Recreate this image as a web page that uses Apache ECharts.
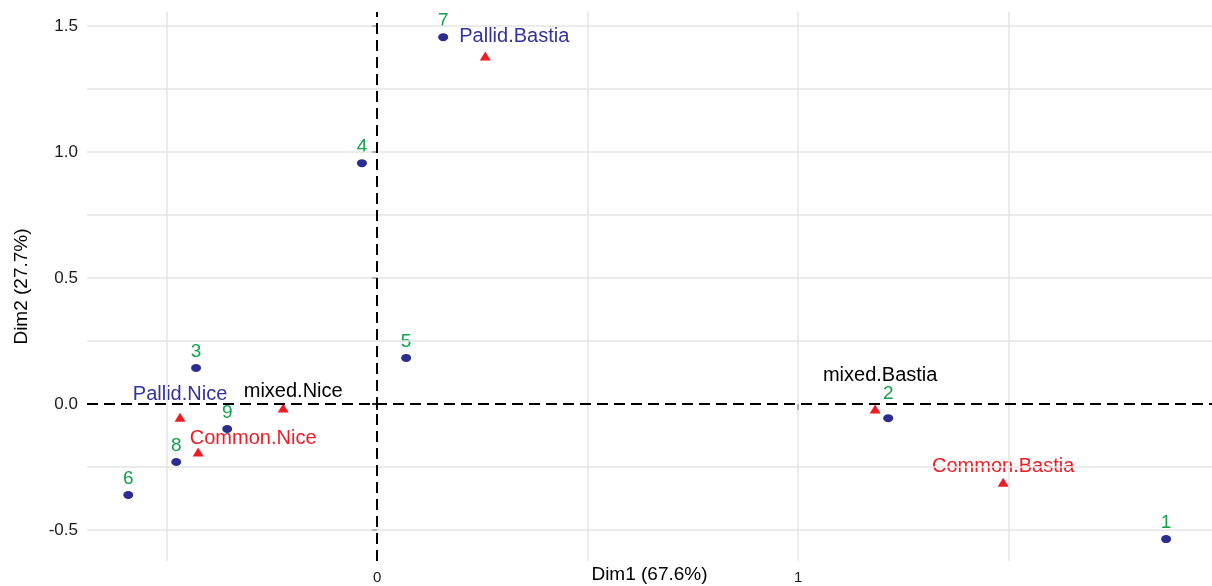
<!DOCTYPE html>
<html>
<head>
<meta charset="utf-8">
<script src="https://cdn.jsdelivr.net/npm/echarts@6/dist/echarts.min.js"></script>
<style>
  html, body { margin: 0; padding: 0; background: #ffffff; }
  #chart { width: 1212px; height: 586px; }
</style>
</head>
<body>
<div id="chart"></div>
<script>
// ---- data ----
const rowNames = ['1', '2', '3', '4', '5', '6', '7', '8', '9'];
const rowDim1 = [1.874, 1.214, -0.430, -0.036, 0.069, -0.591, 0.157, -0.477, -0.356];
const rowDim2 = [-0.536, -0.056, 0.143, 0.956, 0.183, -0.361, 1.456, -0.230, -0.099];

const colNames = ['Pallid.Bastia', 'mixed.Bastia', 'Common.Bastia', 'Pallid.Nice', 'mixed.Nice', 'Common.Nice'];
const colDim1 = [0.257, 1.183, 1.487, -0.468, -0.223, -0.425];
const colDim2 = [1.381, -0.020, -0.310, -0.052, -0.016, -0.190];

const xTickValues = [0, 1];
const yTickValues = [-0.5, 0, 0.5, 1, 1.5];
const xGridValues = [-0.5, 0.5, 1, 1.5];
const yGridValues = [-0.5, -0.25, 0.25, 0.5, 0.75, 1, 1.25, 1.5];

const xTitle = 'Dim1 (67.6%)';
const yTitle = 'Dim2 (27.7%)';

// ---- styles (label placement, colours) ----
const BLUE = '#2B2E8E';
const RED = '#EE1C25';
const GREEN = '#0FA24A';
const rowLabelOffset = { '2': [0, -24] };
const colLabelStyle = {
  'Pallid.Bastia': { offset: [29, -20], color: '#33339A' },
  'mixed.Bastia': { offset: [5, -34], color: '#000000' },
  'Common.Bastia': { offset: [0, -16], color: RED },
  'Pallid.Nice': { offset: [0, -23], color: '#33339A' },
  'mixed.Nice': { offset: [10, -17], color: '#000000' },
  'Common.Nice': { offset: [55, -13], color: RED }
};
const FONT = '"Liberation Sans", Arial, sans-serif';

const rowData = rowNames.map((n, i) => ({
  name: n,
  value: [rowDim1[i], rowDim2[i]],
  label: { offset: rowLabelOffset[n] || [0, -16] }
}));
const colData = colNames.map((n, i) => ({
  name: n,
  value: [colDim1[i], colDim2[i]],
  label: { offset: colLabelStyle[n].offset, color: colLabelStyle[n].color }
}));

const gridLine = { color: '#e4e4e4', width: 1.5, type: 'solid', opacity: 1 };

const chart = echarts.init(document.getElementById('chart'), null, { renderer: 'canvas' });
chart.setOption({
  backgroundColor: '#ffffff',
  animation: false,
  grid: { left: 87, right: 0, top: 12, bottom: 25, containLabel: false, outerBoundsMode: 'none' },
  xAxis: {
    type: 'value',
    min: -0.689,
    max: 1.983,
    axisLine: { show: false },
    splitLine: { show: false },
    axisTick: { show: true, customValues: xTickValues, length: 6, lineStyle: { color: '#222', width: 2 } },
    axisLabel: {
      customValues: xTickValues,
      formatter: v => String(v),
      margin: 9,
      fontSize: 15,
      color: '#1a1a1a',
      fontFamily: FONT
    },
    name: xTitle,
    nameLocation: 'middle',
    nameGap: 4,
    nameMoveOverlap: false,
    nameTextStyle: { fontSize: 19, color: '#000', fontFamily: FONT, verticalAlign: 'top' }
  },
  yAxis: {
    type: 'value',
    min: -0.623,
    max: 1.556,
    axisLine: { show: false },
    splitLine: { show: false },
    axisTick: { show: true, customValues: yTickValues, length: 5, lineStyle: { color: '#222', width: 2 } },
    axisLabel: {
      customValues: yTickValues,
      formatter: v => v.toFixed(1),
      margin: 9,
      fontSize: 17,
      color: '#1a1a1a',
      fontFamily: FONT
    },
    name: yTitle,
    nameLocation: 'middle',
    nameRotate: 90,
    nameGap: 56,
    nameMoveOverlap: false,
    nameTextStyle: { fontSize: 19, color: '#000', fontFamily: FONT }
  },
  series: [
    {
      type: 'scatter',
      data: [],
      silent: true,
      z: 1,
      markLine: {
        silent: true,
        symbol: 'none',
        label: { show: false },
        lineStyle: gridLine,
        data: xGridValues.map(v => ({ xAxis: v })).concat(yGridValues.map(v => ({ yAxis: v })))
      }
    },
    {
      type: 'scatter',
      data: [],
      silent: true,
      z: 2,
      markLine: {
        silent: true,
        symbol: 'none',
        label: { show: false },
        lineStyle: { color: '#000', width: 2, type: [11, 6], opacity: 1 },
        data: [{ xAxis: 0 }, { yAxis: 0 }]
      }
    },
    {
      type: 'scatter',
      name: 'rows',
      z: 3,
      symbol: 'circle',
      symbolSize: [10, 8],
      itemStyle: { color: BLUE, opacity: 1 },
      data: rowData,
      label: {
        show: true,
        position: 'inside',
        formatter: p => p.name,
        color: GREEN,
        fontSize: 19,
        fontFamily: FONT
      }
    },
    {
      type: 'scatter',
      name: 'cols',
      z: 3,
      symbol: 'triangle',
      symbolSize: [11, 9],
      itemStyle: { color: RED, opacity: 1 },
      data: colData,
      label: {
        show: true,
        position: 'inside',
        formatter: p => p.name,
        fontSize: 20,
        fontFamily: FONT
      }
    }
  ]
});
</script>
</body>
</html>
